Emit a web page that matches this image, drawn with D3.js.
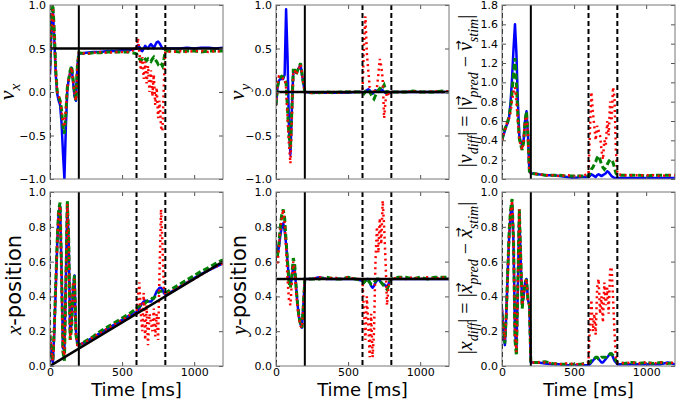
<!DOCTYPE html>
<html>
<head>
<meta charset="utf-8">
<script src="https://cdn.jsdelivr.net/npm/d3@7"></script>
<style>
  body { margin: 0; background: #fff; }
  text { font-family: "DejaVu Sans", sans-serif; }
</style>
</head>
<body>
<div id="chart"></div>
<script>
// shared time axis (ms)
var time = [0,10,20,30,40,50,60,70,80,90,100,110,120,130,140,150,160,170,180,190,200,
  250,300,350,400,450,500,550,
  600,610,620,630,640,650,660,670,680,690,700,710,720,730,740,750,760,770,780,790,800,
  850,900,950,1000,1050,1100,1150,1200];

// v_x
var vxBlue = [0.2,0.75,0.93,0.6,0.2,-0.02,-0.1,-0.15,-0.35,-0.7,-1.0,-0.4,0.02,0.15,0.22,0.28,0.12,-0.05,-0.1,0.3,0.44,
  0.45,0.46,0.46,0.47,0.47,0.48,0.48,
  0.5,0.54,0.52,0.48,0.47,0.5,0.53,0.51,0.5,0.53,0.55,0.53,0.5,0.54,0.57,0.58,0.56,0.53,0.5,0.5,0.5,
  0.5,0.5,0.51,0.5,0.51,0.51,0.5,0.51];
var vxGreen = [0.3,0.85,1.0,0.7,0.25,0.0,-0.05,-0.1,-0.2,-0.4,-0.48,-0.25,0.05,0.15,0.25,0.3,0.15,0.0,-0.1,0.3,0.45,
  0.44,0.45,0.45,0.46,0.46,0.46,0.46,
  0.44,0.42,0.38,0.36,0.38,0.4,0.38,0.36,0.38,0.36,0.35,0.38,0.4,0.37,0.35,0.32,0.34,0.33,0.3,0.38,0.47,
  0.47,0.46,0.47,0.47,0.46,0.47,0.47,0.47];
var vxRed = [0.25,0.8,0.95,0.65,0.22,0.0,-0.05,-0.1,-0.22,-0.35,-0.4,-0.2,0.05,0.15,0.22,0.28,0.12,-0.02,-0.1,0.28,0.45,
  0.44,0.45,0.46,0.45,0.46,0.46,0.46,
  0.5,0.62,0.45,0.25,0.4,0.15,0.35,0.1,0.3,0.0,0.25,-0.05,0.2,-0.15,0.05,-0.3,-0.1,-0.4,-0.45,0.1,0.47,
  0.46,0.47,0.46,0.47,0.47,0.46,0.47,0.46];

// v_y
var vyBlue = [-0.15,0.05,0.13,0.15,0.15,0.15,0.2,0.95,0.4,-0.4,-0.72,-0.2,0.25,0.25,0.22,0.25,0.28,0.32,0.2,0.1,0.0,
  -0.01,-0.01,-0.01,-0.01,-0.01,-0.01,0.0,
  0.0,-0.02,0.01,0.02,0.03,0.02,0.0,-0.02,0.0,0.02,0.01,0.0,0.02,0.03,0.02,0.0,-0.01,0.0,0.0,-0.01,0.0,
  0.0,0.0,0.0,0.0,0.0,0.0,0.0,0.0];
var vyGreen = [-0.15,0.05,0.15,0.17,0.18,0.17,0.15,0.1,-0.2,-0.5,-0.65,-0.2,0.25,0.25,0.2,0.25,0.28,0.33,0.22,0.1,0.0,
  -0.01,-0.01,0.0,-0.01,0.0,0.0,0.0,
  0.0,-0.02,0.0,0.03,0.02,0.0,-0.03,-0.06,-0.08,-0.04,0.0,0.02,0.04,0.02,0.05,0.08,0.03,-0.01,0.0,-0.01,0.0,
  0.0,0.0,0.01,0.0,0.0,0.0,0.01,0.0];
var vyRed = [-0.15,0.1,0.18,0.18,0.18,0.15,0.15,0.05,-0.3,-0.6,-0.82,-0.3,0.22,0.25,0.2,0.25,0.28,0.32,0.22,0.1,0.0,
  -0.01,0.0,-0.01,0.0,-0.01,0.0,0.0,
  0.0,0.55,0.87,0.45,0.25,0.05,0.02,-0.02,0.0,0.03,0.05,0.2,0.38,0.3,0.15,-0.3,-0.1,0.0,-0.02,-0.03,0.0,
  0.0,0.0,0.01,0.0,0.0,0.01,0.0,0.01];

// |v_diff|
var vdBlue = [0.4,0.45,0.5,0.55,0.58,0.65,0.8,1.05,1.35,1.6,1.3,0.8,0.45,0.38,0.35,0.4,0.6,0.7,0.45,0.08,0.06,
  0.05,0.04,0.04,0.03,0.02,0.01,0.02,
  0.02,0.03,0.05,0.04,0.03,0.02,0.04,0.05,0.04,0.03,0.04,0.05,0.06,0.08,0.07,0.05,0.03,0.02,0.01,0.01,0.01,
  0.01,0.01,0.01,0.01,0.01,0.01,0.01,0.01];
var vdGreen = [0.4,0.48,0.52,0.55,0.6,0.65,0.75,0.9,1.1,1.25,1.0,0.65,0.42,0.35,0.3,0.38,0.6,0.7,0.45,0.08,0.06,
  0.05,0.04,0.04,0.04,0.03,0.03,0.03,
  0.03,0.06,0.1,0.12,0.15,0.18,0.22,0.24,0.2,0.15,0.12,0.1,0.12,0.15,0.18,0.2,0.2,0.17,0.12,0.06,0.04,
  0.04,0.04,0.04,0.03,0.04,0.04,0.04,0.04];
var vdRed = [0.4,0.46,0.5,0.56,0.6,0.63,0.7,0.82,0.9,0.95,0.8,0.6,0.42,0.35,0.3,0.4,0.6,0.65,0.45,0.08,0.06,
  0.05,0.04,0.04,0.03,0.04,0.03,0.03,
  0.05,0.5,0.9,0.7,0.55,0.4,0.55,0.5,0.45,0.3,0.2,0.4,0.35,0.6,0.45,0.8,0.6,0.95,0.85,0.3,0.05,
  0.04,0.04,0.04,0.04,0.04,0.03,0.04,0.04];

// x-position
var xBlue = [0.15,0.05,0.02,0.2,0.45,0.7,0.88,0.92,0.55,0.1,0.1,0.5,0.93,0.7,0.18,0.25,0.45,0.52,0.2,0.12,0.12,
  0.14,0.165,0.19,0.215,0.24,0.265,0.29,
  0.31,0.32,0.33,0.35,0.36,0.37,0.375,0.375,0.37,0.37,0.37,0.38,0.39,0.41,0.43,0.44,0.45,0.45,0.44,0.42,0.41,
  0.43,0.455,0.48,0.505,0.53,0.55,0.57,0.59];
var xGreen = [0.18,0.06,0.03,0.22,0.48,0.72,0.9,0.94,0.55,0.08,0.03,0.45,0.95,0.72,0.15,0.22,0.45,0.52,0.18,0.13,0.12,
  0.145,0.17,0.2,0.225,0.25,0.275,0.3,
  0.33,0.34,0.345,0.35,0.355,0.36,0.36,0.37,0.375,0.38,0.38,0.39,0.39,0.4,0.41,0.42,0.43,0.43,0.43,0.42,0.42,
  0.445,0.47,0.495,0.52,0.545,0.565,0.59,0.61];
var xRed = [0.2,0.08,0.03,0.2,0.45,0.7,0.88,0.92,0.5,0.1,0.06,0.48,0.93,0.7,0.15,0.25,0.48,0.5,0.18,0.12,0.12,
  0.14,0.165,0.19,0.215,0.24,0.265,0.29,
  0.3,0.4,0.48,0.3,0.2,0.42,0.15,0.35,0.12,0.3,0.25,0.2,0.33,0.17,0.3,0.15,0.55,0.9,0.7,0.45,0.41,
  0.43,0.455,0.48,0.5,0.525,0.55,0.57,0.59];

// y-position
var yBlue = [0.7,0.65,0.68,0.75,0.8,0.82,0.78,0.7,0.6,0.5,0.47,0.5,0.58,0.55,0.45,0.35,0.28,0.24,0.22,0.35,0.5,
  0.5,0.51,0.5,0.5,0.5,0.5,0.5,
  0.49,0.48,0.49,0.5,0.5,0.48,0.46,0.45,0.46,0.48,0.49,0.5,0.49,0.48,0.47,0.47,0.46,0.46,0.47,0.49,0.5,
  0.5,0.5,0.5,0.5,0.5,0.5,0.5,0.5];
var yGreen = [0.68,0.63,0.7,0.8,0.87,0.9,0.85,0.72,0.6,0.48,0.45,0.52,0.62,0.58,0.45,0.35,0.28,0.24,0.22,0.35,0.5,
  0.5,0.5,0.51,0.5,0.5,0.51,0.5,
  0.49,0.48,0.49,0.5,0.49,0.48,0.47,0.47,0.48,0.49,0.5,0.5,0.49,0.48,0.47,0.46,0.45,0.44,0.46,0.49,0.5,
  0.51,0.51,0.5,0.51,0.5,0.51,0.51,0.51];
var yRed = [0.6,0.58,0.68,0.78,0.85,0.9,0.82,0.68,0.5,0.38,0.35,0.48,0.6,0.55,0.42,0.33,0.27,0.23,0.22,0.35,0.5,
  0.5,0.51,0.5,0.51,0.5,0.51,0.5,
  0.5,0.3,0.15,0.4,0.25,0.05,0.3,0.05,0.2,0.6,0.8,0.65,0.85,0.7,0.95,0.8,0.6,0.35,0.45,0.5,0.5,
  0.51,0.5,0.51,0.5,0.51,0.5,0.51,0.5];

// |x_diff|
var xdBlue = [0.33,0.2,0.12,0.3,0.55,0.75,0.88,0.93,0.7,0.2,0.1,0.45,0.88,0.6,0.35,0.4,0.48,0.5,0.38,0.35,0.02,
  0.02,0.015,0.01,0.01,0.005,0.005,0.005,
  0.005,0.01,0.02,0.03,0.04,0.05,0.05,0.04,0.03,0.02,0.02,0.03,0.04,0.05,0.06,0.07,0.07,0.05,0.03,0.02,0.01,
  0.01,0.01,0.01,0.01,0.01,0.01,0.02,0.01];
var xdGreen = [0.3,0.2,0.13,0.3,0.55,0.78,0.9,0.96,0.72,0.15,0.06,0.48,0.9,0.62,0.33,0.42,0.48,0.5,0.38,0.35,0.02,
  0.02,0.025,0.015,0.01,0.01,0.01,0.01,
  0.02,0.02,0.03,0.03,0.04,0.05,0.05,0.04,0.04,0.05,0.05,0.05,0.05,0.06,0.06,0.07,0.07,0.06,0.05,0.03,0.02,
  0.015,0.02,0.015,0.02,0.015,0.02,0.015,0.02];
var xdRed = [0.32,0.22,0.15,0.3,0.52,0.75,0.88,0.95,0.7,0.18,0.08,0.45,0.9,0.62,0.35,0.4,0.47,0.5,0.37,0.35,0.02,
  0.02,0.02,0.015,0.01,0.015,0.01,0.01,
  0.02,0.25,0.38,0.2,0.3,0.18,0.45,0.5,0.3,0.4,0.25,0.48,0.35,0.45,0.3,0.55,0.57,0.4,0.2,0.05,0.02,
  0.015,0.02,0.015,0.02,0.015,0.02,0.015,0.02];

// stimulus reference lines (black)
var refTime = [0, 1200];
var vxRef = [0.5, 0.5];
var vyRef = [0, 0];
var xRef = [0, 0.6];
var yRef = [0.5, 0.5];

// vertical markers: dashed at 0, 600, 800; solid at 200
var dashedTimes = [0, 600, 800];
var solidTimes = [200];

var xTicks = [0, 500, 1000];
var velTicks = [-1, -0.5, 0, 0.5, 1];
var diffTicks = [0, 0.2, 0.4, 0.6, 0.8, 1.0, 1.2, 1.4, 1.6, 1.8];
var posTicks = [0, 0.2, 0.4, 0.6, 0.8, 1.0];

var width = 680, height = 402;
var colLeft = [50, 276, 502], rowTop = [5, 192];
var pw = 173, ph = 174;

var svg = d3.select("#chart").append("svg")
  .attr("width", width)
  .attr("height", height);

var panels = [
  {col: 0, row: 0, dom: [-1, 1], ticks: velTicks, b: vxBlue, g: vxGreen, r: vxRed, ref: vxRef},
  {col: 1, row: 0, dom: [-1, 1], ticks: velTicks, b: vyBlue, g: vyGreen, r: vyRed, ref: vyRef},
  {col: 2, row: 0, dom: [0, 1.8], ticks: diffTicks, b: vdBlue, g: vdGreen, r: vdRed, ref: null},
  {col: 0, row: 1, dom: [0, 1], ticks: posTicks, b: xBlue, g: xGreen, r: xRed, ref: xRef},
  {col: 1, row: 1, dom: [0, 1], ticks: posTicks, b: yBlue, g: yGreen, r: yRed, ref: yRef},
  {col: 2, row: 1, dom: [0, 1], ticks: posTicks, b: xdBlue, g: xdGreen, r: xdRed, ref: null}
];

panels.forEach(function(p, i) {
  var g = svg.append("g")
    .attr("transform", "translate(" + colLeft[p.col] + "," + rowTop[p.row] + ")");

  var x = d3.scaleLinear().domain([0, 1200]).range([0, pw]);
  var y = d3.scaleLinear().domain(p.dom).range([ph, 0]);

  g.append("clipPath").attr("id", "clip" + i)
    .append("rect").attr("width", pw).attr("height", ph);

  var plot = g.append("g").attr("clip-path", "url(#clip" + i + ")");

  var line = d3.line()
    .x(function(d) { return x(d[0]); })
    .y(function(d) { return y(d[1]); });

  function series(vals) {
    return time.map(function(t, k) { return [t, vals[k]]; });
  }

  plot.append("path").datum(series(p.b))
    .attr("d", line).attr("fill", "none")
    .attr("stroke", "#0000ff").attr("stroke-width", 2.5)
    .attr("stroke-linejoin", "round");
  plot.append("path").datum(series(p.g))
    .attr("d", line).attr("fill", "none")
    .attr("stroke", "#008000").attr("stroke-width", 3)
    .attr("stroke-dasharray", "6,3");
  plot.append("path").datum(series(p.r))
    .attr("d", line).attr("fill", "none")
    .attr("stroke", "#ff0000").attr("stroke-width", 2.5)
    .attr("stroke-dasharray", "2,3.5");

  if (p.ref) {
    plot.append("path").datum(refTime.map(function(t, k) { return [t, p.ref[k]]; }))
      .attr("d", line).attr("fill", "none")
      .attr("stroke", "#000").attr("stroke-width", 2.5);
  }

  plot.selectAll(".vdash").data(dashedTimes).enter().append("line")
    .attr("x1", function(d) { return x(d); }).attr("x2", function(d) { return x(d); })
    .attr("y1", 0).attr("y2", ph)
    .attr("stroke", "#000").attr("stroke-width", 2)
    .attr("stroke-dasharray", "5,3");
  plot.selectAll(".vsolid").data(solidTimes).enter().append("line")
    .attr("x1", function(d) { return x(d); }).attr("x2", function(d) { return x(d); })
    .attr("y1", 0).attr("y2", ph)
    .attr("stroke", "#000").attr("stroke-width", 2);

  // axes, ticks pointing inward on all four sides
  var fmt = d3.format(".1f");
  g.append("g")
    .call(d3.axisLeft(y).tickValues(p.ticks).tickFormat(fmt)
      .tickSizeInner(-4).tickSizeOuter(0).tickPadding(4));
  g.append("g").attr("transform", "translate(" + pw + ",0)")
    .call(d3.axisRight(y).tickValues(p.ticks).tickFormat("")
      .tickSizeInner(-4).tickSizeOuter(0));
  g.append("g").attr("transform", "translate(0," + ph + ")")
    .call(d3.axisBottom(x).tickValues(xTicks).tickFormat(p.row === 1 ? d3.format("d") : "")
      .tickSizeInner(-4).tickSizeOuter(0).tickPadding(2.5));
  g.append("g")
    .call(d3.axisTop(x).tickValues(xTicks).tickFormat("")
      .tickSizeInner(-4).tickSizeOuter(0));

  g.selectAll(".domain").remove();
  g.selectAll(".tick line").attr("stroke", "#555");
  g.selectAll(".tick text")
    .style("font-family", "'DejaVu Sans', sans-serif")
    .style("font-size", "11px").attr("fill", "#000");

  g.append("rect").attr("width", pw).attr("height", ph)
    .attr("fill", "none").attr("stroke", "#777").attr("stroke-width", 1);

  if (p.row === 1) {
    g.append("text")
      .attr("x", pw / 2).attr("y", 204)
      .attr("text-anchor", "middle")
      .style("font-size", "18px")
      .text("Time [ms]");
  }
});

// y-axis labels built from tspans; vec parts get a small arrow drawn above
var serif = "'Liberation Serif', 'DejaVu Serif', serif";
function mathLabel(cx, cy, size, parts) {
  var g = svg.append("g")
    .attr("transform", "translate(" + cx + "," + cy + ") rotate(-90)");
  var t = g.append("text")
    .attr("text-anchor", "middle")
    .style("font-size", size + "px");
  var shift = 0, idx = 0, arrows = [];
  parts.forEach(function(pt) {
    var want = pt.sub ? size * 0.28 : 0;
    t.append("tspan").text(pt.t)
      .attr("dy", want - shift)
      .style("font-family", pt.sans ? "'DejaVu Sans', sans-serif" : serif)
      .style("font-style", pt.i ? "italic" : "normal")
      .style("font-size", (pt.sub ? size * 0.7 : size) + "px");
    if (pt.vec) arrows.push(idx);
    idx += pt.t.length;
    shift = want;
  });
  var node = t.node();
  arrows.forEach(function(k) {
    var e = node.getExtentOfChar(k);
    g.append("text")
      .attr("x", e.x + e.width / 2 + size * 0.06)
      .attr("y", -size * 0.5)
      .attr("text-anchor", "middle")
      .style("font-size", (size * 0.6) + "px")
      .text("\u2192");
  });
}

mathLabel(14, 92, 22, [{t: "v", i: true}, {t: "x", i: true, sub: true}]);
mathLabel(244, 92, 22, [{t: "v", i: true}, {t: "y", i: true, sub: true}]);
mathLabel(21, 285, 21, [{t: "x", i: true}, {t: "-position", sans: true}]);
mathLabel(246, 285, 21, [{t: "y", i: true}, {t: "-position", sans: true}]);

mathLabel(472, 91, 20, [
  {t: "|"}, {t: "v", i: true}, {t: "diff", i: true, sub: true}, {t: "|"}, {t: " = "},
  {t: "|"}, {t: "v", i: true, vec: true}, {t: "pred", i: true, sub: true}, {t: " \u2212 "},
  {t: "v", i: true, vec: true}, {t: "stim", i: true, sub: true}, {t: "|"}
]);
mathLabel(472, 278, 20, [
  {t: "|"}, {t: "x", i: true}, {t: "diff", i: true, sub: true}, {t: "|"}, {t: " = "},
  {t: "|"}, {t: "x", i: true, vec: true}, {t: "pred", i: true, sub: true}, {t: " \u2212 "},
  {t: "x", i: true, vec: true}, {t: "stim", i: true, sub: true}, {t: "|"}
]);
</script>
</body>
</html>
